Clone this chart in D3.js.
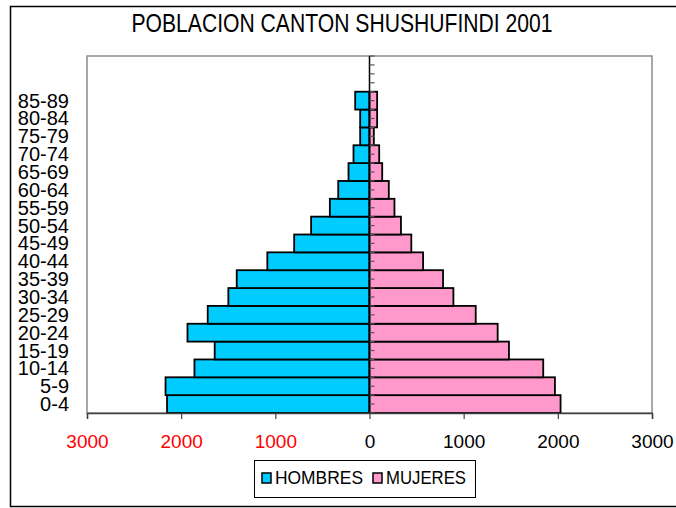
<!DOCTYPE html>
<html>
<head>
<meta charset="utf-8">
<script src="https://cdn.jsdelivr.net/npm/d3@7"></script>
<style>
  body { margin: 0; background: #fff; }
  text { font-family: Arial, "Liberation Sans", sans-serif; }
</style>
</head>
<body>
<div id="chart"></div>
<script>
var svgWidth = 676;
var svgHeight = 508;

// data, bottom group first
var ageGroups = ["0-4", "5-9", "10-14", "15-19", "20-24", "25-29", "30-34", "35-39", "40-44",
  "45-49", "50-54", "55-59", "60-64", "65-69", "70-74", "75-79", "80-84", "85-89"];
var hombres = [2150, 2166, 1859, 1644, 1933, 1718, 1499, 1410, 1085, 800, 620, 421, 332, 223, 170, 99, 99, 152];
var mujeres = [2029, 1969, 1845, 1481, 1361, 1128, 891, 781, 569, 444, 334, 265, 205, 135, 103, 46, 81, 81];
var xTicks = [-3000, -2000, -1000, 0, 1000, 2000, 3000];
var seriesNames = ["HOMBRES", "MUJERES"];
var seriesColors = ["#00ccff", "#ff99cc"];
var slotCount = 20; // category axis has two empty slots above 85-89

var plot = { left: 87, right: 652, top: 56, bottom: 413 };

var svg = d3.select("#chart")
  .append("svg")
  .attr("width", svgWidth)
  .attr("height", svgHeight);

// outer frame
svg.append("rect")
  .attr("x", 10.5).attr("y", 6.5)
  .attr("width", 700).attr("height", 500)
  .attr("fill", "none")
  .attr("stroke", "#000")
  .attr("stroke-width", 1.5);

// title
svg.append("text")
  .attr("x", 342).attr("y", 32)
  .attr("text-anchor", "middle")
  .attr("font-size", 25)
  .attr("textLength", 421)
  .attr("lengthAdjust", "spacingAndGlyphs")
  .text("POBLACION CANTON SHUSHUFINDI 2001");

var x = d3.scaleLinear().domain([-3000, 3000]).range([plot.left, plot.right]);
var y = d3.scaleLinear().domain([0, slotCount]).range([plot.bottom, plot.top]);
var band = y(0) - y(1);

// plot area border
svg.append("rect")
  .attr("x", plot.left).attr("y", plot.top)
  .attr("width", plot.right - plot.left)
  .attr("height", plot.bottom - plot.top)
  .attr("fill", "none")
  .attr("stroke", "#8c8c8c")
  .attr("stroke-width", 1.5);

var rows = ageGroups.map(function(g, i) {
  return { group: g, i: i, h: hombres[i], m: mujeres[i] };
});

// bars
svg.selectAll(".barH")
  .data(rows)
  .enter()
  .append("rect")
  .attr("class", "barH")
  .attr("x", d => x(-d.h))
  .attr("y", d => y(d.i + 1))
  .attr("width", d => x(0) - x(-d.h))
  .attr("height", band)
  .attr("fill", seriesColors[0])
  .attr("stroke", "#000")
  .attr("stroke-width", 1.8);

svg.selectAll(".barM")
  .data(rows)
  .enter()
  .append("rect")
  .attr("class", "barM")
  .attr("x", x(0))
  .attr("y", d => y(d.i + 1))
  .attr("width", d => x(d.m) - x(0))
  .attr("height", band)
  .attr("fill", seriesColors[1])
  .attr("stroke", "#000")
  .attr("stroke-width", 1.8);

// category axis at zero, ticks every half slot
svg.append("line")
  .attr("x1", x(0)).attr("x2", x(0))
  .attr("y1", plot.top).attr("y2", plot.bottom)
  .attr("stroke", "#000")
  .attr("stroke-width", 1.5);

var halfTicks = d3.range(0, slotCount * 2 + 1).map(d => d / 2);
svg.selectAll(".catTick")
  .data(halfTicks)
  .enter()
  .append("line")
  .attr("class", "catTick")
  .attr("x1", x(0)).attr("x2", x(0) + 5)
  .attr("y1", d => y(d)).attr("y2", d => y(d))
  .attr("stroke", "#555")
  .attr("stroke-width", 1.2);

// category labels on the left
svg.selectAll(".catLabel")
  .data(rows)
  .enter()
  .append("text")
  .attr("class", "catLabel")
  .attr("x", 69)
  .attr("y", d => y(d.i + 0.5) + 7)
  .attr("text-anchor", "end")
  .attr("font-size", 20)
  .attr("fill", "#000")
  .text(d => d.group);

// value axis
var bottomAxis = d3.axisBottom(x)
  .tickValues(xTicks)
  .tickSize(6)
  .tickFormat(d => Math.abs(d));

var xAxis = svg.append("g")
  .attr("transform", `translate(0, ${plot.bottom})`)
  .call(bottomAxis);

xAxis.select(".domain").attr("stroke", "#404040").attr("stroke-width", 1.5);
xAxis.selectAll(".tick line").attr("stroke", "#404040").attr("stroke-width", 1.2);
xAxis.selectAll(".tick text")
  .attr("y", 35)
  .attr("dy", 0)
  .attr("font-size", 19)
  .attr("font-family", "Arial, 'Liberation Sans', sans-serif")
  .attr("fill", d => d < 0 ? "#ff0000" : "#000");

// legend
var legend = svg.append("g");
legend.append("rect")
  .attr("x", 254.5).attr("y", 460.5)
  .attr("width", 221).attr("height", 37)
  .attr("fill", "#fff")
  .attr("stroke", "#000")
  .attr("stroke-width", 1);

var legendX = [262, 373];
var legendW = [88, 80];
seriesNames.forEach(function(name, i) {
  legend.append("rect")
    .attr("x", legendX[i]).attr("y", 473)
    .attr("width", 9).attr("height", 10)
    .attr("fill", seriesColors[i])
    .attr("stroke", "#000")
    .attr("stroke-width", 1.5);
  legend.append("text")
    .attr("x", legendX[i] + 13)
    .attr("y", 484)
    .attr("font-size", 18.5)
    .attr("textLength", legendW[i])
    .attr("lengthAdjust", "spacingAndGlyphs")
    .text(name);
});
</script>
</body>
</html>
